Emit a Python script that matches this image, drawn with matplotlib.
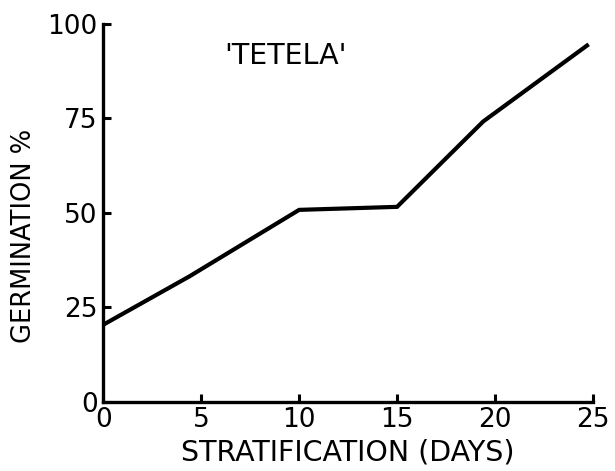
import matplotlib
matplotlib.use("Agg")
import matplotlib.pyplot as plt

# --- data ---
days        = [0, 4.4, 10, 15, 19.4, 24.7]
germination = [20.4, 33.2, 50.8, 51.6, 74.2, 94.3]
xticks      = [0, 5, 10, 15, 20, 25]
yticks      = [0, 25, 50, 75, 100]
cultivar    = "'TETELA'"

plt.rcParams['font.family'] = ['DejaVu Sans']

fig = plt.figure(figsize=(6.15, 4.71), dpi=100)
ax = fig.add_axes([0.168, 0.147, 0.796, 0.802])

ax.plot(days, germination, color='black', linewidth=3.0, solid_joinstyle='miter')

ax.set_xlim(0, 25)
ax.set_ylim(0, 100)
ax.set_xticks(xticks)
ax.set_yticks(yticks)
ax.tick_params(direction='in', length=6, width=2.2, labelsize=19, pad=4, colors='black')

for s in ['top', 'right']:
    ax.spines[s].set_visible(False)
for s in ['left', 'bottom']:
    ax.spines[s].set_linewidth(2.4)

ax.set_xlabel("STRATIFICATION (DAYS)", fontsize=20.5, labelpad=4)
ax.set_ylabel("GERMINATION %", fontsize=18.5)
ax.yaxis.set_label_coords(-0.135, 0.44)
ax.text(9.3, 91.5, cultivar, fontsize=20.5, ha='center', va='center')

fig.savefig("out.png", dpi=100)
